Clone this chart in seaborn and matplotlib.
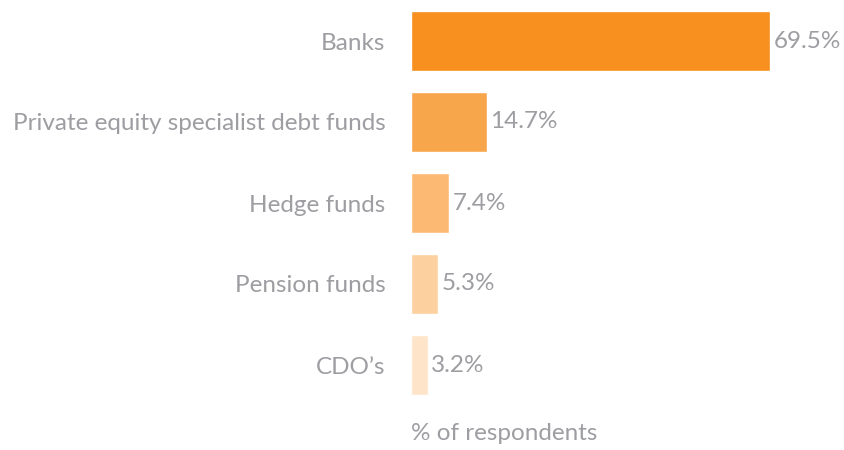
import matplotlib
matplotlib.use("Agg")
import matplotlib.pyplot as plt
import seaborn as sns
import pandas as pd

categories = ["Banks", "Private equity specialist debt funds", "Hedge funds",
              "Pension funds", "CDO\u2019s"]
values = [69.5, 14.7, 7.4, 5.3, 3.2]
colors = ["#F7901E", "#F8A64C", "#FBB974", "#FDD09F", "#FEE4C8"]
axis_note = "% of respondents"

sns.set_theme(style="white")
plt.rcParams["font.family"] = ["Lato", "DejaVu Sans"]

text_grey = "#9D9DA2"
fs = 17.5

df = pd.DataFrame({"category": categories, "value": values})

fig = plt.figure(figsize=(8.44, 4.5), dpi=100)
ax = fig.add_axes([411 / 844, 44.5 / 450, (844 - 411) / 844, 405 / 450])

sns.barplot(data=df, y="category", x="value", hue="category",
            palette=colors, order=categories, hue_order=categories,
            width=0.74, legend=False, ax=ax, saturation=1)

ax.set_xlim(0, (844 - 411) / (359 / 69.5))
ax.set_ylim(4.5, -0.5)
ax.set_xlabel("")
ax.set_ylabel("")
ax.set_xticks([])
for side in ax.spines.values():
    side.set_visible(False)
ax.tick_params(axis="y", length=0, pad=18.5, labelsize=fs, labelcolor=text_grey)

for container in ax.containers:
    ax.bar_label(container, fmt="%.1f%%", padding=2.5, fontsize=fs, color=text_grey)

fig.text(411 / 844, 1 - 433 / 450, axis_note, ha="left", va="center",
         fontsize=fs, color=text_grey)

fig.savefig("out.png", dpi=100)
